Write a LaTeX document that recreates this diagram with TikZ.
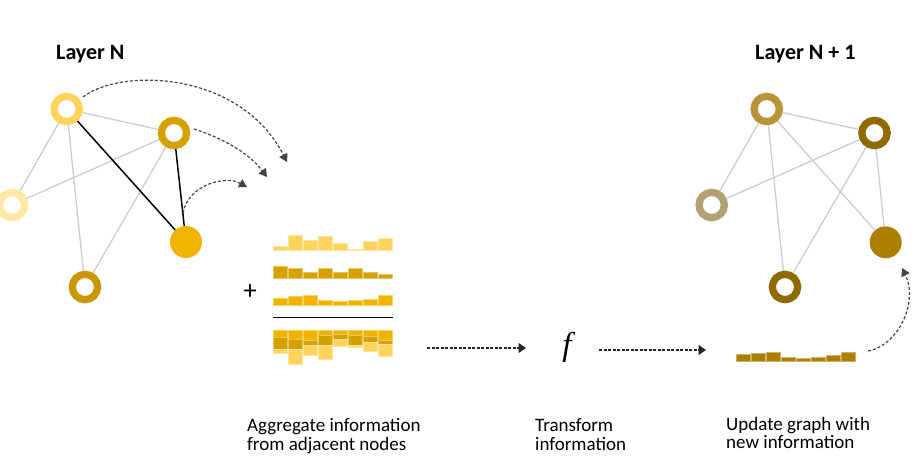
\documentclass[tikz,border=0pt]{standalone}
\usepackage{fontspec}
\setmainfont{Carlito}
\newfontfamily\ffont{Liberation Serif}
\usetikzlibrary{arrows.meta}
\definecolor{cA}{HTML}{FFD35C}
\definecolor{cB}{HTML}{D5A100}
\definecolor{cC}{HTML}{FFE8A6}
\definecolor{cD}{HTML}{F2B200}
\definecolor{cE}{HTML}{C99700}
\definecolor{rA}{HTML}{B8933A}
\definecolor{rB}{HTML}{8F6A00}
\definecolor{rC}{HTML}{B3A074}
\definecolor{rD}{HTML}{AD7F00}
\definecolor{rE}{HTML}{8E6A00}
\definecolor{edgegray}{HTML}{CCCCCC}
\definecolor{dashgray}{HTML}{444444}
\tikzset{
  ring/.style={circle, minimum size=25.3pt, inner sep=0pt, line width=7.3pt, draw=#1, fill=white},
  dot/.style={circle, minimum size=32pt, inner sep=0pt, fill=#1},
  soft/.style={draw=edgegray, line width=1.3pt},
  hard/.style={draw=black, line width=1.5pt},
  flow/.style={draw=black!85, line width=1.2pt, dash pattern=on 3pt off 1.5pt, -{Triangle[length=7.5pt,width=10pt]}},
  curvy/.style={draw=dashgray, line width=1.2pt, dash pattern=on 3pt off 2pt, -{Triangle[length=8pt,width=9pt]}},
  bar/.style={fill=#1, draw=#1!60!white, line width=0.6pt},
  title/.style={font=\fontsize{22}{24}\selectfont\bfseries, anchor=base west, inner sep=0pt},
  caption/.style={font=\fontsize{19}{18.3}\selectfont, anchor=base west, align=left, inner sep=0pt}
}
\begin{document}
\begin{tikzpicture}[x=1pt,y=-1pt]
\useasboundingbox (0,0) rectangle (919,456);

% titles
\node[title] (tL) at (56,59) {Layer N};
\node[title] (tR) at (755,59) {Layer N + 1};

% left graph
\node[ring=cA] (A) at (66.7,109) {};
\node[ring=cB] (B) at (174,133) {};
\node[ring=cC] (C) at (12,205) {};
\node[dot=cD] (D) at (186,242) {};
\node[ring=cE] (E) at (85,287) {};
\draw[soft] (A) -- (B);
\draw[soft] (A) -- (C);
\draw[soft] (A) -- (E);
\draw[soft] (B) -- (C);
\draw[soft] (B) -- (E);
\draw[hard] (A) -- (D);
\draw[hard] (B) -- (D);

% aggregation arrows
\coordinate (sA) at (83,97);
\coordinate (tA) at (287,162);
\coordinate (sB) at (194,129);
\coordinate (tB) at (267,177);
\coordinate (sD) at (183,213);
\coordinate (tD) at (247,187);
\draw[curvy] (sA) .. controls (120,68) and (240,70) .. (tA);
\draw[curvy] (sB) .. controls (222,138) and (248,152) .. (tB);
\draw[curvy] (sD) .. controls (188,185) and (225,175) .. (tD);

% message bars
\foreach \h [count=\i from 0] in {4,15,10,14,7,1.3,9,12}
  \path[bar=cA] (273+15*\i,250.7) rectangle ++(14,-\h);
\foreach \h [count=\i from 0] in {11.7,10.3,5.7,10.3,5.7,10.3,5.7,4}
  \path[bar=cB] (273+15*\i,278.3) rectangle ++(14,-\h);
\foreach \h [count=\i from 0] in {7.7,9,10,5.3,4,5.3,6.3,10}
  \path[bar=cD] (273+15*\i,305.7) rectangle ++(14,-\h);
\node[font=\fontsize{27}{27}\selectfont, inner sep=0pt] (plus) at (250,292) {+};
\coordinate (lineL) at (273,317.7);
\coordinate (lineR) at (393,317.7);
\draw[black, line width=1.3pt] (lineL) -- (lineR);
\foreach \a/\b/\c [count=\i from 0] in {7.7/11.7/4, 9/10.3/15, 10/5.7/10, 5.3/10.3/14, 4/5.7/7, 5.3/10.3/1.3, 6.3/5.7/9, 10/4/12}{
  \path[bar=cD] (273+15*\i,330) rectangle ++(14,\a);
  \path[bar=cB] (273+15*\i,330+\a) rectangle ++(14,\b);
  \path[bar=cA] (273+15*\i,330+\a+\b) rectangle ++(14,\c);
}

% transform
\coordinate (aggOut) at (427,348);
\coordinate (fIn) at (526,348);
\node[inner sep=0pt, font=\fontsize{33}{33}\selectfont\ffont\itshape] (f) at (567,347) {f};
\coordinate (fOut) at (599,350);
\coordinate (updIn) at (706,350);
\draw[flow] (aggOut) -- (fIn);
\draw[flow] (fOut) -- (updIn);

% output bars
\foreach \h [count=\i from 0] in {7.3,8.7,9.7,4.7,3.3,4.7,6,9.7}
  \path[bar=rD] (736+15*\i,361.7) rectangle ++(14,-\h);

% right graph
\node[ring=rA] (A2) at (766.7,109) {};
\node[ring=rB] (B2) at (874.5,133) {};
\node[ring=rC] (C2) at (711.7,205) {};
\node[dot=rD] (D2) at (885.7,242.3) {};
\node[ring=rE] (E2) at (785,287) {};
\draw[soft] (A2) -- (B2);
\draw[soft] (A2) -- (C2);
\draw[soft] (A2) -- (E2);
\draw[soft] (A2) -- (D2);
\draw[soft] (B2) -- (C2);
\draw[soft] (B2) -- (E2);
\draw[soft] (B2) -- (D2);

% update arrow
\coordinate (outR) at (868,351);
\coordinate (tD2) at (902,268);
\draw[curvy] (outR) .. controls (900,345) and (918,300) .. (tD2);

% captions
\node[caption] (cap1) at (247,450) {Aggregate information\\from adjacent nodes};
\node[caption] (cap2) at (535,450) {Transform\\information};
\node[caption] (cap3) at (726,448.3) {Update graph with\\new information};
\end{tikzpicture}
\end{document}
